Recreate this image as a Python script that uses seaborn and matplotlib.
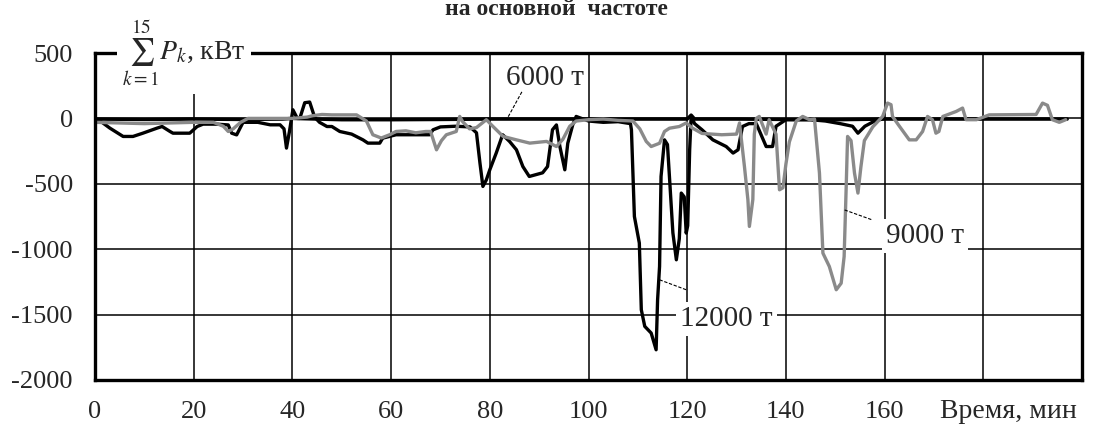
import matplotlib
matplotlib.use("Agg")
import matplotlib.pyplot as plt
import seaborn as sns
import numpy as np

# ---------------- data ----------------
# time, min  /  sum of P_k, kW
t12 = [0, 0.7, 3.0, 5.7, 7.7, 9.7, 12.6, 13.6, 15.2, 15.8,
       19.2, 20.7, 21.9, 24.7, 27.0, 27.7, 28.7, 29.4, 30.0, 33,
       35.5, 37.5, 38.3, 38.8, 39.4, 40.1, 41.0, 41.5, 42.5, 43.5,
       44.5, 45.5, 47.0, 48.0, 49.6, 52, 54.3, 55.3, 56.4, 57.7,
       58.3, 61, 64, 67.8, 68.5, 70, 73, 76, 77.3, 78.0,
       78.6, 79.3, 80.0, 81.3, 82.6, 84.0, 85.4, 86.7, 88.0, 90.7,
       91.7, 92.7, 93.5, 94.2, 95.2, 95.8, 96.8, 97.5, 100, 103,
       106, 108.5, 108.7, 109.3, 110.3, 110.7, 111.4, 112.7, 113.7, 114.0,
       114.4, 114.7, 115.4, 116.0, 116.4, 117.1, 117.8, 118.4, 118.8, 119.4,
       119.8, 120.1, 120.5, 120.8, 121.5, 123, 125.2, 127.9, 129.3, 130.3,
       131.2, 132.5, 134, 136, 137.3, 138, 140, 145, 148, 151,
       153.5, 154.6, 156, 158, 160]
p12 = [-10, -10, -74, -138, -138, -113, -74, -62, -100, -113,
       -113, -62, -44, -44, -50, -113, -126, -74, -30, -30,
       -49, -49, -80, -227, -100, 66, 0, 0, 120, 125,
       10, -30, -62, -62, -100, -120, -164, -189, -189, -189,
       -151, -125, -125, -125, -87, -65, -60, -65, -110, -340,
       -520, -470, -393, -265, -125, -176, -240, -368, -444, -416,
       -368, -87, -50, -215, -393, -190, -50, 15, -20, -30,
       -25, -40, -87, -750, -953, -1463, -1590, -1641, -1769, -1387,
       -1132, -444, -164, -200, -444, -875, -1081, -920, -571, -600,
       -877, -820, -240, 15, -40, -87, -164, -215, -265, -240,
       -62, -40, -40, -215, -215, -60, -10, -10, -20, -40,
       -60, -113, -60, -20, 0]

t9 = [0, 5, 10, 15, 20, 24, 26, 27, 28, 29.5,
      31, 36, 40, 43, 44, 46, 48, 50, 53, 55,
      56.3, 58, 59.7, 61, 63, 65, 67, 68, 69.2, 70.2,
      71.2, 73.2, 73.9, 74.5, 75.9, 77.3, 79.3, 80.6, 82.7, 85.4,
      88.1, 91.5, 93.5, 94.8, 96.2, 97.5, 100, 103, 106, 109,
      110.4, 111.7, 112.7, 114.4, 115.4, 116.4, 118.4, 119.8, 121.1, 123,
      127, 130, 130.6, 131.6, 132.3, 132.6, 133.3, 133.6, 134.0, 134.6,
      136.0, 136.6, 138.0, 138.7, 139.4, 140.0, 140.7, 142.1, 143.4, 144.8,
      145.8, 146.8, 147.5, 148.8, 150.2, 151.2, 151.8, 152.2, 152.5, 153.2,
      153.9, 154.6, 155.2, 155.9, 157.6, 159.6, 160.6, 161.3, 161.6, 163,
      165, 166.4, 167.7, 168.7, 169.7, 170.4, 171, 171.8, 174.5, 175.8,
      176.5, 178.6, 181.2, 190.7, 192, 193, 194, 195.4, 196.7]
p9 = [-30, -35, -40, -35, -30, -30, -60, -100, -80, -30,
      0, 0, 0, 10, 20, 30, 27, 27, 27, -20,
      -125, -150, -125, -100, -95, -110, -100, -100, -240, -170,
      -125, -100, 15, -25, -80, -70, -10, -60, -138, -164,
      -189, -176, -215, -160, -60, -20, -10, -5, -15, -20,
      -80, -176, -215, -190, -100, -75, -62, -35, -75, -115,
      -125, -120, -35, -368, -622, -826, -620, -120, 0, 15,
      -120, -10, -120, -546, -530, -350, -180, -20, 15, -10,
      -5, -418, -1030, -1132, -1310, -1260, -1056, -546, -138, -170,
      -418, -571, -370, -170, -65, 15, 117, 105, 15, -60,
      -164, -164, -100, 15, -10, -113, -100, 15, 53, 79,
      -10, -10, 27, 30, 117, 100, -10, -30, -10]

t6 = [0, 10, 20, 30, 38, 40, 50, 60, 70, 80, 90, 100, 110, 120, 120.8,
      121.5, 130, 140, 150, 160, 170, 180, 190, 197]
p6 = [-5, -8, -5, -8, -5, 0, -10, -10, -8, -5, -5, -5, -5, -5, 25,
      -5, -5, -8, -10, -5, -5, -5, -5, -5]

x_ticks = [0, 20, 40, 60, 80, 100, 120, 140, 160, 180, 200]
x_labels = ["0", "20", "40", "60", "80", "100", "120", "140", "160", "", ""]
y_ticks = [-2000, -1500, -1000, -500, 0, 500]
y_labels = ["-2000", "-1500", "-1000", "-500", "0", "500"]

# ---------------- style ----------------
sns.set_style("white")
plt.rcParams["font.family"] = ["Liberation Serif", "DejaVu Serif"]
plt.rcParams["mathtext.fontset"] = "stix"

W, H = 1099, 428
fig = plt.figure(figsize=(W / 100, H / 100), dpi=100)
ax = fig.add_axes([95 / W, 1 - 380 / H, (1082 - 95) / W, (380 - 53) / H])

ax.set_xlim(0, 200)
ax.set_ylim(-2000, 500)
ax.set_xticks(x_ticks)
ax.set_xticklabels(x_labels)
ax.set_yticks(y_ticks)
ax.set_yticklabels(y_labels)
ax.tick_params(axis="x", length=0, pad=15, labelsize=19)
ax.tick_params(axis="y", length=0, pad=16, labelsize=19)
ax.grid(True, color="black", lw=1.1)
ax.set_axisbelow(True)
for s in ax.spines.values():
    s.set_color("black")
    s.set_linewidth(2.4)

sns.lineplot(x=t6, y=p6, color="black", linewidth=2.5, ax=ax,
             estimator=None, sort=False, legend=False)
sns.lineplot(x=t12, y=p12, color="black", linewidth=2.4, ax=ax,
             estimator=None, sort=False, legend=False)
sns.lineplot(x=t9, y=p9, color="#8a8a8a", linewidth=2.4, ax=ax,
             estimator=None, sort=False, legend=False)
ax.set_xlabel("")
ax.set_ylabel("")

# annotations
box = dict(facecolor="white", edgecolor="none", pad=3)
ax.text(91.1, 310, "6000 т", ha="center", va="center", fontsize=21, bbox=box, zorder=5)
ax.plot([86.5, 83.4], [203, -10], color="black", lw=0.8, ls=(0, (3, 1.5)), zorder=5)
ax.text(128, -1532, "12000 т", ha="center", va="center", fontsize=21, bbox=box, zorder=5)
ax.plot([114.4, 119.8], [-1234, -1310], color="black", lw=0.8, ls=(0, (3, 1.5)), zorder=5)
ax.text(168.2, -901, "9000 т", ha="center", va="center", fontsize=21, bbox=box, zorder=5)
ax.plot([151.9, 157.5], [-700, -776], color="black", lw=0.8, ls=(0, (3, 1.5)), zorder=5)

# axis title on the top frame
ax.text(5.5, 500, r"$\sum_{k=1}^{15}P_k$, кВт", ha="left", va="center", fontsize=20,
        bbox=dict(facecolor="white", edgecolor="none", pad=4), zorder=6, clip_on=False)

fig.text(940 / W, 1 - 418 / H, "Время, мин", ha="left", va="baseline", fontsize=20)
fig.text(556 / W, 1 - 15 / H, "на основной  частоте", ha="center", va="baseline",
         fontsize=17, fontweight="bold")

fig.savefig("out.png", dpi=100)
